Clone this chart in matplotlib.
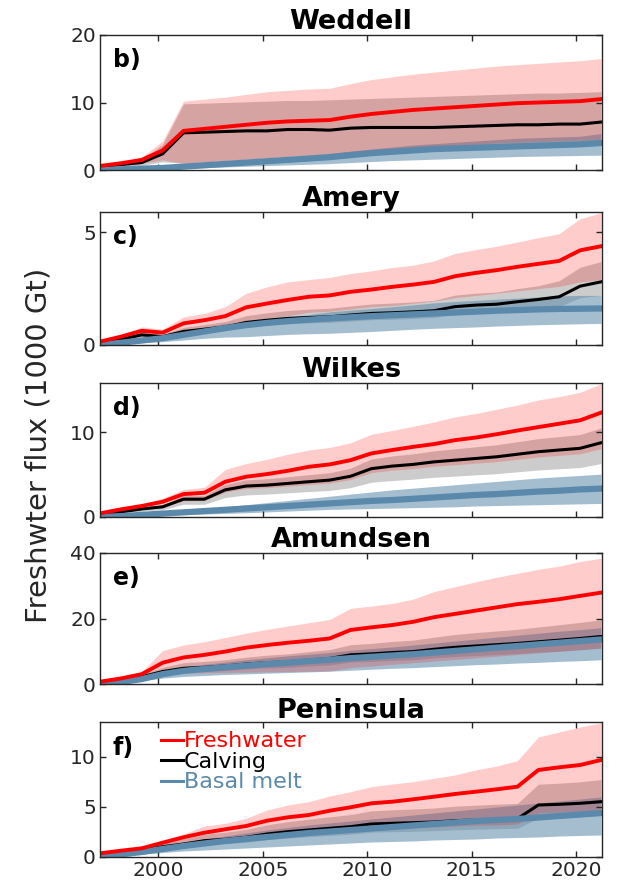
import matplotlib
matplotlib.use("Agg")
import matplotlib.pyplot as plt
import numpy as np

plt.rcParams.update({'font.size': 14, 'font.family': 'DejaVu Sans'})

# time axis (annual values)
years = [1997.2, 1998.2, 1999.2, 2000.2, 2001.2, 2002.2, 2003.2, 2004.2, 2005.2,
         2006.2, 2007.2, 2008.2, 2009.2, 2010.2, 2011.2, 2012.2, 2013.2, 2014.2,
         2015.2, 2016.2, 2017.2, 2018.2, 2019.2, 2020.2, 2021.2]

regions = ["Weddell", "Amery", "Wilkes", "Amundsen", "Peninsula"]
panel_tags = ["b)", "c)", "d)", "e)", "f)"]
ylims = [(0, 20), (0, 5.9), (0, 15.8), (0, 40), (0, 13.5)]
yticks = [[0, 10, 20], [0, 5], [0, 10], [0, 20, 40], [0, 5, 10]]

# ---- Weddell
wed_fw = [0.6, 1.0, 1.5, 2.9, 5.8, 6.1, 6.4, 6.7, 7.0, 7.2, 7.3, 7.4, 7.9, 8.3, 8.6, 8.9, 9.1, 9.3, 9.5, 9.7, 9.9, 10.0, 10.1, 10.2, 10.5]
wed_fw_hi = [0.7, 1.1, 1.9, 4.3, 10.2, 10.5, 10.8, 11.2, 11.6, 11.8, 12.0, 12.1, 12.8, 13.4, 13.8, 14.2, 14.5, 14.8, 15.1, 15.4, 15.6, 15.8, 16.0, 16.2, 16.5]
wed_fw_lo = [0.5, 0.8, 1.0, 1.5, 1.0, 1.2, 1.4, 1.6, 1.8, 2.0, 2.2, 2.4, 2.6, 2.8, 3.0, 3.2, 3.4, 3.6, 3.8, 4.0, 4.1, 4.2, 4.3, 4.4, 4.5]
wed_cv = [0.5, 0.8, 1.1, 2.4, 5.5, 5.6, 5.7, 5.8, 5.8, 6.0, 6.0, 5.9, 6.2, 6.3, 6.3, 6.3, 6.3, 6.4, 6.5, 6.6, 6.7, 6.7, 6.8, 6.8, 7.1]
wed_cv_hi = [0.6, 0.9, 1.6, 3.8, 9.8, 9.9, 10.0, 10.1, 10.2, 10.3, 10.3, 10.4, 10.5, 10.6, 10.7, 10.8, 10.9, 11.0, 11.1, 11.2, 11.3, 11.4, 11.4, 11.5, 11.6]
wed_cv_lo = [0.3, 0.5, 0.7, 1.2, 1.0, 1.2, 1.4, 1.6, 1.8, 2.0, 2.2, 2.4, 2.6, 2.8, 3.0, 3.2, 3.4, 3.5, 3.6, 3.7, 3.8, 3.9, 4.0, 4.1, 4.2]
wed_bm = [0.0, 0.1, 0.2, 0.3, 0.5, 0.7, 0.9, 1.1, 1.3, 1.5, 1.7, 1.9, 2.2, 2.5, 2.7, 2.9, 3.1, 3.2, 3.3, 3.4, 3.5, 3.6, 3.7, 3.8, 4.0]
wed_bm_hi = [0.0, 0.15, 0.3, 0.45, 0.7, 0.95, 1.2, 1.45, 1.7, 1.95, 2.2, 2.45, 2.8, 3.1, 3.4, 3.7, 3.9, 4.1, 4.3, 4.5, 4.7, 4.8, 4.9, 5.0, 5.4]
wed_bm_lo = [0.0, 0.05, 0.1, 0.15, 0.25, 0.35, 0.45, 0.55, 0.65, 0.75, 0.85, 0.95, 1.1, 1.25, 1.4, 1.5, 1.6, 1.7, 1.8, 1.9, 2.0, 2.05, 2.1, 2.15, 2.2]

# ---- Amery
ame_fw = [0.15, 0.37, 0.63, 0.55, 0.96, 1.1, 1.28, 1.67, 1.84, 2.0, 2.14, 2.2, 2.36, 2.46, 2.58, 2.68, 2.8, 3.05, 3.2, 3.32, 3.47, 3.6, 3.73, 4.2, 4.38]
ame_fw_hi = [0.2, 0.45, 0.8, 0.7, 1.25, 1.4, 1.7, 2.29, 2.58, 2.8, 2.9, 3.0, 3.17, 3.29, 3.44, 3.54, 3.73, 4.06, 4.23, 4.38, 4.57, 4.76, 4.94, 5.6, 5.86]
ame_fw_lo = [0.1, 0.25, 0.4, 0.35, 0.6, 0.7, 0.8, 1.05, 1.2, 1.3, 1.45, 1.5, 1.6, 1.7, 1.75, 1.85, 1.95, 2.1, 2.2, 2.3, 2.4, 2.5, 2.6, 2.8, 2.9]
ame_cv = [0.1, 0.25, 0.45, 0.37, 0.6, 0.7, 0.8, 1.0, 1.1, 1.18, 1.22, 1.25, 1.33, 1.4, 1.43, 1.47, 1.52, 1.7, 1.77, 1.81, 1.92, 2.02, 2.14, 2.61, 2.8]
ame_cv_hi = [0.13, 0.33, 0.58, 0.48, 0.78, 0.91, 1.04, 1.3, 1.43, 1.53, 1.59, 1.63, 1.73, 1.82, 1.86, 1.91, 1.98, 2.21, 2.3, 2.35, 2.5, 2.63, 2.85, 3.45, 3.7]
ame_cv_lo = [0.08, 0.2, 0.36, 0.3, 0.48, 0.56, 0.64, 0.8, 0.88, 0.94, 0.98, 1.0, 1.06, 1.12, 1.14, 1.18, 1.22, 1.36, 1.42, 1.45, 1.54, 1.62, 1.71, 2.1, 2.2]
ame_bm = [0.0, 0.1, 0.2, 0.3, 0.45, 0.6, 0.75, 0.88, 0.98, 1.06, 1.12, 1.18, 1.23, 1.28, 1.32, 1.36, 1.4, 1.44, 1.48, 1.52, 1.55, 1.58, 1.6, 1.61, 1.62]
ame_bm_hi = [0.0, 0.15, 0.3, 0.45, 0.65, 0.8, 0.95, 1.03, 1.15, 1.25, 1.35, 1.47, 1.55, 1.62, 1.7, 1.78, 1.87, 1.93, 1.98, 2.03, 2.08, 2.13, 2.18, 2.2, 2.2]
ame_bm_lo = [0.0, 0.05, 0.1, 0.15, 0.22, 0.3, 0.35, 0.37, 0.42, 0.47, 0.5, 0.52, 0.56, 0.6, 0.65, 0.7, 0.74, 0.77, 0.8, 0.84, 0.87, 0.9, 0.92, 0.94, 0.96]

# ---- Wilkes
wil_fw = [0.43, 0.9, 1.3, 1.8, 2.7, 2.86, 4.16, 4.75, 5.06, 5.45, 5.92, 6.2, 6.7, 7.5, 7.9, 8.27, 8.6, 9.06, 9.37, 9.76, 10.2, 10.6, 11.0, 11.4, 12.3]
wil_fw_hi = [0.5, 1.0, 1.5, 2.2, 3.25, 3.5, 5.6, 6.3, 6.8, 7.4, 7.9, 8.2, 8.75, 9.76, 10.2, 10.7, 11.2, 11.8, 12.2, 12.7, 13.2, 13.8, 14.2, 14.7, 15.7]
wil_fw_lo = [0.28, 0.55, 0.87, 1.1, 1.93, 1.93, 2.94, 3.36, 3.46, 3.64, 3.83, 4.0, 4.42, 5.24, 5.52, 5.7, 5.98, 6.16, 6.35, 6.53, 6.8, 7.08, 7.27, 7.45, 8.05]
wil_cv = [0.3, 0.6, 0.95, 1.2, 2.1, 2.1, 3.2, 3.65, 3.76, 3.96, 4.16, 4.35, 4.8, 5.7, 6.0, 6.2, 6.5, 6.7, 6.9, 7.1, 7.4, 7.7, 7.9, 8.1, 8.75]
wil_cv_hi = [0.36, 0.72, 1.14, 1.44, 2.52, 2.52, 3.84, 4.38, 4.51, 4.75, 4.99, 5.22, 5.76, 6.84, 7.2, 7.44, 7.8, 8.04, 8.28, 8.52, 8.88, 9.24, 9.48, 9.72, 10.5]
wil_cv_lo = [0.22, 0.43, 0.68, 0.86, 1.5, 1.5, 2.3, 2.6, 2.7, 2.85, 3.0, 3.13, 3.46, 4.1, 4.3, 4.46, 4.68, 4.82, 4.97, 5.11, 5.33, 5.54, 5.69, 5.83, 6.3]
wil_bm = [0.0, 0.1, 0.25, 0.4, 0.55, 0.7, 0.85, 1.0, 1.15, 1.3, 1.45, 1.6, 1.75, 1.9, 2.0, 2.15, 2.3, 2.45, 2.6, 2.7, 2.85, 3.0, 3.1, 3.25, 3.35]
wil_bm_hi = [0.0, 0.15, 0.4, 0.6, 0.8, 1.0, 1.2, 1.45, 1.7, 1.95, 2.2, 2.45, 2.7, 2.95, 3.2, 3.4, 3.6, 3.8, 4.0, 4.2, 4.4, 4.6, 4.75, 4.9, 5.05]
wil_bm_lo = [0.0, 0.05, 0.12, 0.2, 0.28, 0.35, 0.42, 0.5, 0.6, 0.7, 0.8, 0.9, 0.95, 1.0, 1.05, 1.1, 1.15, 1.2, 1.3, 1.35, 1.4, 1.45, 1.5, 1.55, 1.6]

# ---- Amundsen
amu_fw = [0.7, 1.7, 3.0, 6.5, 8.1, 8.9, 9.9, 11.1, 11.9, 12.6, 13.2, 13.9, 16.5, 17.3, 18.0, 19.0, 20.4, 21.4, 22.4, 23.4, 24.4, 25.1, 25.9, 26.9, 27.9]
amu_fw_hi = [0.8, 2.0, 3.8, 10.2, 11.9, 12.9, 14.2, 15.5, 16.7, 17.7, 18.7, 19.7, 23.1, 23.8, 24.6, 25.9, 28.2, 29.7, 31.2, 32.6, 33.8, 35.0, 36.0, 37.4, 38.4]
amu_fw_lo = [0.6, 1.2, 2.0, 3.0, 3.3, 3.4, 3.5, 3.6, 3.7, 3.8, 3.9, 4.0, 5.0, 5.5, 6.0, 6.5, 7.0, 7.5, 8.0, 8.5, 9.0, 9.5, 10.0, 10.5, 11.0]
amu_cv = [0.3, 1.2, 2.2, 3.8, 4.8, 5.1, 5.5, 6.1, 6.5, 6.8, 7.3, 7.8, 8.9, 9.2, 9.6, 9.9, 10.6, 11.2, 11.6, 12.0, 12.4, 12.9, 13.4, 13.9, 14.5]
amu_cv_hi = [0.4, 1.6, 3.0, 5.1, 6.5, 6.9, 7.4, 8.2, 8.8, 9.2, 9.9, 10.5, 12.0, 12.4, 13.0, 13.4, 14.3, 15.1, 15.7, 16.2, 16.7, 17.4, 18.1, 18.8, 19.6]
amu_cv_lo = [0.2, 0.9, 1.6, 2.8, 3.6, 3.8, 4.1, 4.6, 4.9, 5.1, 5.5, 5.8, 6.7, 6.9, 7.2, 7.4, 8.0, 8.4, 8.7, 9.0, 9.3, 9.7, 10.0, 10.4, 10.9]
amu_bm = [0.0, 0.6, 1.5, 3.0, 4.0, 4.6, 5.1, 5.6, 6.1, 6.5, 7.0, 7.4, 7.9, 8.3, 8.7, 9.1, 9.6, 10.1, 10.6, 11.1, 11.6, 12.1, 12.6, 13.1, 13.6]
amu_bm_hi = [0.0, 0.8, 2.0, 4.0, 5.3, 6.0, 6.7, 7.4, 8.0, 8.6, 9.1, 9.6, 10.3, 10.8, 11.3, 11.9, 12.5, 13.1, 13.7, 14.3, 14.9, 15.5, 16.1, 16.6, 17.2]
amu_bm_lo = [0.0, 0.4, 1.0, 1.8, 2.3, 2.6, 2.9, 3.1, 3.3, 3.5, 3.7, 3.9, 4.2, 4.5, 4.8, 5.0, 5.3, 5.6, 5.9, 6.1, 6.4, 6.6, 6.9, 7.1, 7.4]

# ---- Peninsula
pen_fw = [0.37, 0.63, 0.87, 1.43, 1.97, 2.43, 2.77, 3.1, 3.63, 3.97, 4.2, 4.63, 4.97, 5.37, 5.53, 5.77, 6.03, 6.3, 6.53, 6.77, 7.03, 8.7, 8.97, 9.2, 9.7]
pen_fw_hi = [0.4, 0.7, 1.0, 1.7, 2.3, 3.1, 3.37, 3.87, 4.7, 5.2, 5.53, 6.1, 6.53, 7.03, 7.3, 7.53, 7.87, 8.2, 8.7, 9.1, 9.63, 12.0, 12.5, 13.0, 13.4]
pen_fw_lo = [0.2, 0.4, 0.6, 0.9, 1.1, 1.4, 1.5, 1.7, 2.0, 2.2, 2.3, 2.5, 2.6, 2.8, 2.9, 3.0, 3.0, 3.1, 3.2, 3.2, 3.3, 4.4, 4.5, 4.6, 4.7]
pen_cv = [0.2, 0.45, 0.7, 1.03, 1.3, 1.63, 1.77, 1.97, 2.3, 2.53, 2.7, 2.87, 3.03, 3.3, 3.37, 3.43, 3.5, 3.63, 3.7, 3.77, 3.83, 5.2, 5.27, 5.37, 5.53]
pen_cv_hi = [0.28, 0.63, 0.98, 1.44, 1.82, 2.28, 2.48, 2.76, 3.22, 3.54, 3.78, 4.02, 4.24, 4.62, 4.72, 4.8, 4.9, 5.08, 5.18, 5.28, 5.36, 7.28, 7.38, 7.52, 7.74]
pen_cv_lo = [0.15, 0.34, 0.53, 0.77, 0.98, 1.22, 1.33, 1.48, 1.73, 1.9, 2.03, 2.15, 2.27, 2.48, 2.53, 2.57, 2.63, 2.72, 2.78, 2.83, 2.87, 3.9, 3.95, 4.03, 4.15]
pen_bm = [0.0, 0.25, 0.5, 0.8, 1.1, 1.35, 1.6, 1.8, 2.0, 2.2, 2.4, 2.55, 2.7, 2.85, 3.0, 3.15, 3.3, 3.45, 3.6, 3.7, 3.8, 3.95, 4.1, 4.25, 4.4]
pen_bm_hi = [0.0, 0.35, 0.7, 1.1, 1.5, 1.8, 2.1, 2.4, 2.7, 2.95, 3.2, 3.4, 3.6, 3.8, 4.0, 4.2, 4.4, 4.6, 4.8, 5.0, 5.2, 5.4, 5.6, 5.8, 6.0]
pen_bm_lo = [0.0, 0.15, 0.3, 0.45, 0.6, 0.7, 0.8, 0.9, 1.0, 1.1, 1.2, 1.3, 1.4, 1.5, 1.55, 1.6, 1.7, 1.75, 1.8, 1.9, 1.95, 2.0, 2.1, 2.15, 2.2]

panels = [
    (wed_fw, wed_fw_lo, wed_fw_hi, wed_cv, wed_cv_lo, wed_cv_hi, wed_bm, wed_bm_lo, wed_bm_hi),
    (ame_fw, ame_fw_lo, ame_fw_hi, ame_cv, ame_cv_lo, ame_cv_hi, ame_bm, ame_bm_lo, ame_bm_hi),
    (wil_fw, wil_fw_lo, wil_fw_hi, wil_cv, wil_cv_lo, wil_cv_hi, wil_bm, wil_bm_lo, wil_bm_hi),
    (amu_fw, amu_fw_lo, amu_fw_hi, amu_cv, amu_cv_lo, amu_cv_hi, amu_bm, amu_bm_lo, amu_bm_hi),
    (pen_fw, pen_fw_lo, pen_fw_hi, pen_cv, pen_cv_lo, pen_cv_hi, pen_bm, pen_bm_lo, pen_bm_hi),
]

c_fw = '#ff0000'
c_cv = '#000000'
c_bm = '#5a89ab'

# axes boxes in pixels (top, bottom) of a 621x890 figure
boxes = [(35, 170), (212, 345), (383, 517), (553, 684), (722, 857)]

fig = plt.figure(figsize=(6.21, 8.9), dpi=100)
W, H = 621.0, 890.0

for k in range(5):
    top, bot = boxes[k]
    ax = fig.add_axes([100 / W, 1 - bot / H, 502 / W, (bot - top) / H])
    fw, fw_lo, fw_hi, cv, cv_lo, cv_hi, bm, bm_lo, bm_hi = panels[k]

    ax.fill_between(years, cv_lo, cv_hi, color=c_cv, alpha=0.2, lw=0)
    ax.plot(years, cv, color=c_cv, lw=2.2, label='Calving')
    ax.fill_between(years, bm_lo, bm_hi, color=c_bm, alpha=0.55, lw=0)
    ax.plot(years, bm, color=c_bm, lw=4.5, label='Basal melt')
    ax.fill_between(years, fw_lo, fw_hi, color=c_fw, alpha=0.2, lw=0)
    ax.plot(years, fw, color=c_fw, lw=2.8, label='Freshwater')

    ax.set_xlim(1997.2, 2021.25)
    ax.set_ylim(*ylims[k])
    ax.set_yticks(yticks[k])
    ax.set_xticks([2000, 2005, 2010, 2015, 2020])
    ax.tick_params(direction='in', top=True, right=True, length=4,
                   labelsize=14.5, colors='#262626', width=1, pad=3)
    if k < 4:
        ax.set_xticklabels([])
    for s in ax.spines.values():
        s.set_color('#262626')
        s.set_linewidth(1.0)
    ax.set_title(regions[k], fontsize=19.5, fontweight='bold', pad=3)
    ax.text(0.025, 0.9, panel_tags[k], transform=ax.transAxes, fontsize=17,
            fontweight='bold', va='top', ha='left')

    if k == 4:
        handles, labels = ax.get_legend_handles_labels()
        order = [2, 0, 1]
        leg = ax.legend([handles[i] for i in order], [labels[i] for i in order],
                        loc='upper left', bbox_to_anchor=(0.09, 1.045), frameon=False,
                        fontsize=16, handlelength=1.0, handletextpad=0.05,
                        labelspacing=0.02, labelcolor='linecolor', borderpad=0.2)
        for h in leg.get_lines():
            h.set_linewidth(2.2)

fig.text(0.062, 0.5, 'Freshwter flux (1000 Gt)', rotation=90, fontsize=21,
         va='center', ha='center', color='#262626')

plt.savefig("out.png", dpi=100)
